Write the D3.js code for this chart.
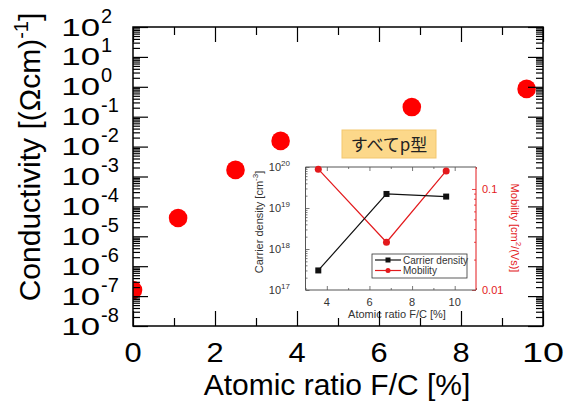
<!DOCTYPE html>
<html>
<head>
<meta charset="utf-8">
<script src="https://cdn.jsdelivr.net/npm/d3@7"></script>
<style>
  body { margin: 0; background: #fff; }
  svg { display: block; font-family: "Liberation Sans", Arial, sans-serif; }
</style>
</head>
<body>
<svg width="568" height="405"></svg>
<script>
// main chart data: conductivity vs F/C ratio
var fcRatio = [0, 1.1, 2.5, 3.6, 6.8, 9.6];
var conductivity = [1.6e-7, 4.1e-5, 1.66e-3, 1.55e-2, 0.21, 0.85];
var yExponents = [-8, -7, -6, -5, -4, -3, -2, -1, 0, 1, 2];
var xTickLabels = [0, 2, 4, 6, 8, 10];

// inset data
var insetRatio = [3.6, 6.8, 9.6];
var carrierDensity = [3e17, 2.2e19, 1.9e19];
var mobility = [0.157, 0.0297, 0.151];
var insetXTicks = [4, 6, 8, 10];
var insetLeftExp = [17, 18, 19, 20];
var insetRightTicks = ["0.01", "0.1"];

var svg = d3.select("svg");

// ---------- main plot ----------
var L = 133, R = 543, T = 27, B = 326;
var x = d3.scaleLinear().domain([0, 10]).range([L, R]);
var y = d3.scaleLog().domain([1e-8, 1e2]).range([B, T]);

svg.append("clipPath").attr("id", "plotclip")
    .append("rect").attr("x", L).attr("y", T).attr("width", R - L).attr("height", B - T);

svg.append("g").attr("clip-path", "url(#plotclip)")
    .selectAll("circle")
    .data(fcRatio)
    .enter().append("circle")
    .attr("cx", function (d) { return x(d); })
    .attr("cy", function (d, i) { return y(conductivity[i]); })
    .attr("r", 9.3)
    .attr("fill", "#ff0000");

// ---------- inset ----------
var iL = 305.5, iR = 476, iT = 167, iB = 290;
var ix = d3.scaleLinear().domain([3, 11]).range([iL, iR]);
var iyL = d3.scaleLog().domain([1e17, 1e20]).range([iB, iT]);
var iyR = d3.scaleLog().domain([0.01, 0.165]).range([iB, iT]);
var grey = "#555", red = "#e3191c", txt = "#333";

var inset = svg.append("g").attr("class", "inset");

function tickG(axis, tx, ty, color) {
    var g = inset.append("g").attr("transform", "translate(" + tx + "," + ty + ")").call(axis);
    g.select(".domain").remove();
    g.selectAll("line").attr("stroke", color).attr("stroke-width", 0.8);
    return g;
}

var iMinorX = [3, 5, 7, 9, 11];
tickG(d3.axisBottom(ix).tickValues(insetXTicks).tickSize(-4).tickFormat(""), 0, iB, grey);
tickG(d3.axisBottom(ix).tickValues(iMinorX).tickSize(-2).tickFormat(""), 0, iB, grey);
tickG(d3.axisTop(ix).tickValues(insetXTicks).tickSize(-4).tickFormat(""), 0, iT, grey);
tickG(d3.axisTop(ix).tickValues(iMinorX).tickSize(-2).tickFormat(""), 0, iT, grey);

var iLeftMajor = insetLeftExp.map(function (e) { return Math.pow(10, e); });
var iLeftMinor = [];
[17, 18, 19].forEach(function (e) {
    for (var k = 2; k <= 9; k++) iLeftMinor.push(k * Math.pow(10, e));
});
tickG(d3.axisLeft(iyL).tickValues(iLeftMajor).tickSize(-4).tickFormat(""), iL, 0, grey);
tickG(d3.axisLeft(iyL).tickValues(iLeftMinor).tickSize(-2).tickFormat(""), iL, 0, grey);

var iRightMinor = [0.02, 0.03, 0.04, 0.05, 0.06, 0.07, 0.08, 0.09];
tickG(d3.axisRight(iyR).tickValues([0.01, 0.1]).tickSize(-4).tickFormat(""), iR, 0, red);
tickG(d3.axisRight(iyR).tickValues(iRightMinor).tickSize(-2).tickFormat(""), iR, 0, red);

// inset frame
inset.append("path")
    .attr("d", "M" + iR + "," + iT + "H" + iL + "V" + iB + "H" + iR)
    .attr("fill", "none").attr("stroke", grey).attr("stroke-width", 1);
inset.append("line")
    .attr("x1", iR).attr("x2", iR).attr("y1", iT).attr("y2", iB)
    .attr("stroke", red).attr("stroke-width", 1);

// inset tick labels
inset.selectAll(".ixl").data(insetXTicks).enter().append("text")
    .attr("x", function (d) { return ix(d); })
    .attr("y", 306)
    .attr("text-anchor", "middle")
    .attr("font-size", 11).attr("fill", txt)
    .text(function (d) { return d; });

var ilab = inset.selectAll(".iyl").data(insetLeftExp).enter().append("text")
    .attr("x", 290)
    .attr("y", function (d) { return iyL(Math.pow(10, d)) + 4; })
    .attr("font-size", 11).attr("fill", txt)
    .attr("text-anchor", "end");
ilab.append("tspan").text("10");
ilab.append("tspan").attr("font-size", 8).attr("dy", -5).text(function (d) { return d; });

inset.selectAll(".iyr").data(insetRightTicks).enter().append("text")
    .attr("x", 482)
    .attr("y", function (d) { return iyR(+d) + 4; })
    .attr("font-size", 11).attr("fill", red)
    .text(function (d) { return d; });

// inset axis titles
var lt = inset.append("text")
    .attr("transform", "translate(263," + 222 + ") rotate(-90)")
    .attr("text-anchor", "middle").attr("font-size", 11).attr("fill", txt);
lt.append("tspan").text("Carrier density [cm");
lt.append("tspan").attr("font-size", 8).attr("dy", -5).text("-3");
lt.append("tspan").attr("dy", 5).text("]");

var rt = inset.append("text")
    .attr("transform", "translate(511," + 228 + ") rotate(90)")
    .attr("text-anchor", "middle").attr("font-size", 11).attr("fill", red);
rt.append("tspan").text("Mobility [cm");
rt.append("tspan").attr("font-size", 8).attr("dy", -5).text("2");
rt.append("tspan").attr("dy", 5).text("/(Vs)]");

inset.append("text")
    .attr("x", 397).attr("y", 318)
    .attr("text-anchor", "middle").attr("font-size", 11).attr("fill", txt)
    .text("Atomic ratio F/C [%]");

// inset series
var carrierLine = d3.line()
    .x(function (d) { return ix(d); })
    .y(function (d, i) { return iyL(carrierDensity[i]); });
var mobilityLine = d3.line()
    .x(function (d) { return ix(d); })
    .y(function (d, i) { return iyR(mobility[i]); });

inset.append("path").datum(insetRatio).attr("d", mobilityLine)
    .attr("fill", "none").attr("stroke", red).attr("stroke-width", 1.2);
inset.selectAll(".mob").data(insetRatio).enter().append("circle")
    .attr("cx", function (d) { return ix(d); })
    .attr("cy", function (d, i) { return iyR(mobility[i]); })
    .attr("r", 3.5).attr("fill", red);

inset.append("path").datum(insetRatio).attr("d", carrierLine)
    .attr("fill", "none").attr("stroke", "#111").attr("stroke-width", 1.2);
inset.selectAll(".car").data(insetRatio).enter().append("rect")
    .attr("x", function (d) { return ix(d) - 3; })
    .attr("y", function (d, i) { return iyL(carrierDensity[i]) - 3; })
    .attr("width", 6).attr("height", 6).attr("fill", "#111");

// legend
var lg = inset.append("g");
lg.append("rect").attr("x", 372).attr("y", 254).attr("width", 95).attr("height", 24)
    .attr("fill", "#fff").attr("stroke", txt).attr("stroke-width", 0.8);
var legendItems = [
    { name: "Carrier density", color: "#111", shape: "square" },
    { name: "Mobility", color: red, shape: "circle" }
];
legendItems.forEach(function (d, i) {
    var ly = 260 + i * 10.5;
    lg.append("line").attr("x1", 375).attr("x2", 401).attr("y1", ly).attr("y2", ly)
        .attr("stroke", d.color).attr("stroke-width", 1.2);
    if (d.shape == "square") {
        lg.append("rect").attr("x", 385.5).attr("y", ly - 2.5).attr("width", 5).attr("height", 5).attr("fill", d.color);
    } else {
        lg.append("circle").attr("cx", 388).attr("cy", ly).attr("r", 2.5).attr("fill", d.color);
    }
    lg.append("text").attr("x", 403).attr("y", ly + 3.5)
        .attr("font-size", 10).attr("fill", txt).text(d.name);
});

// Japanese note
svg.append("rect").attr("x", 342).attr("y", 130).attr("width", 94).attr("height", 28)
    .attr("fill", "#fcd88a").attr("stroke", "#f3c76e").attr("stroke-width", 1);
svg.append("text").attr("x", 389).attr("y", 151)
    .attr("text-anchor", "middle")
    .attr("font-family", "'Noto Sans CJK JP', sans-serif")
    .attr("font-size", 17).attr("fill", "#222")
    .text("すべてp型");

// ---------- main frame and ticks (drawn on top) ----------
var majorY = yExponents.map(function (e) { return Math.pow(10, e); });
var minorY = [];
yExponents.slice(0, -1).forEach(function (e) {
    for (var k = 2; k <= 9; k++) minorY.push(k * Math.pow(10, e));
});
var majorX = [0, 2, 4, 6, 8, 10];
var minorX = [1, 3, 5, 7, 9];

function mainTicks(axis, tx, ty) {
    var g = svg.append("g").attr("transform", "translate(" + tx + "," + ty + ")").call(axis);
    g.select(".domain").remove();
    g.selectAll("line").attr("stroke", "#000").attr("stroke-width", 1.2);
}
mainTicks(d3.axisLeft(y).tickValues(majorY).tickSize(-15).tickFormat(""), L, 0);
mainTicks(d3.axisLeft(y).tickValues(minorY).tickSize(-7).tickFormat(""), L, 0);
mainTicks(d3.axisRight(y).tickValues(majorY).tickSize(-15).tickFormat(""), R, 0);
mainTicks(d3.axisRight(y).tickValues(minorY).tickSize(-7).tickFormat(""), R, 0);
mainTicks(d3.axisBottom(x).tickValues(majorX).tickSize(-15).tickFormat(""), 0, B);
mainTicks(d3.axisBottom(x).tickValues(minorX).tickSize(-8).tickFormat(""), 0, B);
mainTicks(d3.axisTop(x).tickValues(majorX).tickSize(-15).tickFormat(""), 0, T);
mainTicks(d3.axisTop(x).tickValues(minorX).tickSize(-8).tickFormat(""), 0, T);

svg.append("rect").attr("x", L).attr("y", T).attr("width", R - L).attr("height", B - T)
    .attr("fill", "none").attr("stroke", "#000").attr("stroke-width", 1.5);

// main x tick labels (glyphs in the original are a bit wide)
svg.selectAll(".xl").data(xTickLabels).enter().append("text")
    .attr("transform", function (d) {
        return "translate(" + x(d) + ",362) scale(" + (d < 10 ? 1.1 : 1.35) + ",1)";
    })
    .attr("text-anchor", "middle")
    .attr("font-size", 28).attr("fill", "#000")
    .text(function (d) { return d; });

// main y tick labels: 10^n
var yl = svg.selectAll(".yl").data(yExponents).enter().append("g");
yl.append("text")
    .attr("transform", function (d) {
        return "translate(100," + (y(Math.pow(10, d)) + 8.5) + ") scale(1.45,1)";
    })
    .attr("text-anchor", "end")
    .attr("font-size", 24).attr("fill", "#000")
    .text("10");
yl.append("text")
    .attr("x", 101)
    .attr("y", function (d) { return y(Math.pow(10, d)) - 4.5; })
    .attr("font-size", 20).attr("fill", "#000")
    .text(function (d) { return d; });

// axis titles
svg.append("text")
    .attr("x", 337).attr("y", 395)
    .attr("text-anchor", "middle").attr("font-size", 30).attr("fill", "#000")
    .text("Atomic ratio F/C [%]");

var yt = svg.append("text")
    .attr("transform", "translate(40,157) rotate(-90)")
    .attr("text-anchor", "middle").attr("font-size", 30).attr("fill", "#000");
yt.append("tspan").text("Conductivity [(Ωcm)");
yt.append("tspan").attr("font-size", 20).attr("dy", -12).text("-1");
yt.append("tspan").attr("dy", 12).text("]");
</script>
</body>
</html>
